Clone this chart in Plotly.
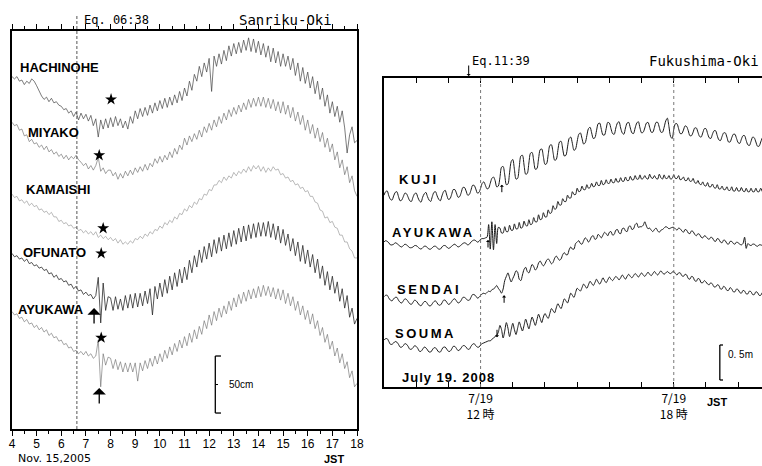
import plotly.graph_objects as go

# ---------------- Left panel: Sanriku-Oki, Nov. 15, 2005 (JST hours, every 0.1 h; levels in cm, stacked) ----
t_left = [round(4 + 0.1 * i, 2) for i in range(141)]

hachinohe = [
    309, 307, 309, 305, 306, 302, 305, 303, 307, 305,
    301, 296, 292, 289, 291, 287, 290, 286, 287, 284,
    283, 280, 281, 277, 279, 274, 278, 271, 277, 272,
    276, 270, 275, 266, 272, 256, 271, 263, 272, 264,
    273, 265, 274, 266, 272, 264, 270, 263, 274, 268,
    279, 272, 281, 274, 282, 275, 284, 277, 286, 279,
    288, 281, 290, 282, 291, 284, 293, 286, 296, 288,
    299, 292, 305, 297, 311, 305, 318, 309, 321, 313,
    325, 296, 327, 318, 329, 320, 332, 323, 336, 327,
    338, 329, 339, 330, 341, 332, 343, 331, 342, 330,
    340, 328, 338, 326, 336, 322, 334, 321, 331, 318,
    329, 318, 327, 315, 325, 310, 321, 305, 317, 303,
    313, 299, 309, 294, 305, 289, 299, 283, 293, 277,
    287, 274, 283, 269, 279, 264, 242, 258, 265, 251,
    253]
miyako = [
    269, 266, 267, 262, 263, 257, 258, 252, 254, 250,
    251, 247, 249, 245, 248, 243, 245, 241, 243, 239,
    241, 237, 240, 236, 239, 237, 240, 236, 234, 231,
    233, 228, 231, 227, 231, 238, 226, 229, 224, 227,
    227, 222, 225, 219, 224, 220, 226, 222, 227, 223,
    229, 225, 230, 226, 232, 227, 233, 230, 237, 233,
    239, 234, 240, 236, 243, 238, 246, 241, 249, 245,
    255, 249, 257, 252, 259, 254, 262, 256, 265, 260,
    268, 262, 271, 265, 274, 268, 277, 271, 280, 274,
    282, 276, 284, 278, 286, 280, 289, 282, 290, 283,
    291, 283, 291, 282, 290, 281, 289, 279, 287, 277,
    287, 276, 284, 273, 282, 270, 278, 267, 275, 262,
    271, 259, 267, 255, 264, 252, 260, 247, 255, 243,
    250, 236, 243, 229, 236, 223, 230, 216, 222, 209,
    204]
kamaishi = [
    206, 203, 204, 200, 201, 198, 200, 196, 198, 195,
    196, 192, 193, 190, 191, 188, 190, 186, 186, 182,
    183, 180, 181, 178, 179, 176, 177, 174, 175, 172,
    174, 171, 173, 170, 173, 168, 170, 167, 169, 166,
    168, 165, 167, 163, 166, 162, 164, 162, 165, 163,
    167, 166, 169, 167, 171, 169, 173, 171, 175, 174,
    178, 176, 181, 179, 183, 181, 186, 184, 189, 188,
    193, 191, 196, 194, 199, 197, 202, 201, 206, 205,
    210, 209, 214, 214, 218, 216, 221, 218, 222, 220,
    225, 222, 226, 224, 228, 225, 230, 226, 231, 228,
    231, 226, 230, 225, 229, 226, 230, 227, 228, 223,
    224, 220, 221, 217, 218, 214, 215, 211, 212, 208,
    209, 204, 204, 199, 198, 192, 191, 185, 186, 181,
    182, 177, 176, 170, 170, 164, 164, 158, 156, 150,
    150]
ofunato = [
    154, 151, 152, 149, 150, 147, 149, 145, 146, 143,
    144, 141, 142, 139, 140, 136, 137, 133, 135, 131,
    132, 129, 130, 126, 127, 123, 125, 121, 122, 118,
    120, 117, 118, 114, 117, 133, 93, 128, 104, 116,
    115, 104, 116, 105, 114, 104, 117, 106, 118, 106,
    119, 107, 119, 108, 121, 110, 123, 100, 125, 114,
    128, 116, 131, 119, 134, 122, 137, 125, 140, 128,
    142, 131, 148, 137, 152, 142, 157, 146, 160, 149,
    163, 151, 166, 154, 168, 156, 170, 158, 172, 160,
    174, 162, 176, 164, 178, 165, 179, 167, 180, 168,
    181, 169, 181, 169, 182, 168, 180, 166, 178, 163,
    175, 161, 171, 156, 167, 152, 164, 147, 161, 145,
    157, 142, 153, 137, 149, 132, 143, 126, 138, 122,
    134, 119, 129, 112, 123, 106, 117, 98, 106, 92,
    97]
ayukawa_2005 = [
    103, 100, 101, 97, 98, 94, 96, 92, 93, 89,
    91, 87, 89, 85, 87, 82, 84, 80, 81, 77,
    78, 74, 75, 71, 72, 68, 69, 66, 68, 65,
    68, 64, 66, 62, 64, 78, 37, 66, 56, 63,
    62, 53, 61, 52, 59, 50, 58, 50, 58, 50,
    58, 42, 58, 51, 60, 53, 62, 55, 64, 57,
    66, 59, 69, 62, 72, 65, 75, 68, 78, 71,
    81, 73, 84, 76, 87, 79, 90, 83, 95, 88,
    100, 91, 103, 95, 106, 98, 108, 101, 112, 104,
    115, 107, 118, 110, 120, 112, 122, 114, 123, 115,
    125, 116, 126, 117, 125, 116, 124, 114, 123, 113,
    122, 110, 119, 108, 116, 104, 112, 100, 108, 96,
    104, 92, 101, 88, 95, 82, 89, 76, 83, 70,
    77, 64, 71, 58, 66, 53, 59, 45, 51, 37,
    40]

left_names = ["HACHINOHE", "MIYAKO", "KAMAISHI", "OFUNATO", "AYUKAWA"]
left_label_pos = [(4.25, 317), (4.57, 260), (4.49, 210), (4.37, 155), (4.16, 105)]
left_star_t = [8.02, 7.54, 7.70, 7.62, 7.62]
left_star_y = [289, 240, 176, 154, 80]
left_arrow_t = [7.33, 7.54]
left_arrow_y = [106, 36]
left_tick_hours = list(range(4, 19))
left_tick_labels = [str(h) for h in left_tick_hours]
eq_2005 = 6.633   # 06:38

# ---------------- Right panel: Fukushima-Oki, July 19, 2008 (JST hours, every 0.05 h; levels in cm) ----
t_right = [round(9 + 0.05 * i, 2) for i in range(236)]

kuji = [
    274, 279, 280, 273, 268, 267, 273, 278, 279, 272, 266, 267, 272, 277, 276, 271, 266, 265, 271, 276,
    277, 271, 266, 264, 271, 276, 278, 272, 267, 265, 272, 278, 279, 273, 268, 266, 273, 279, 281, 274,
    268, 269, 275, 282, 282, 277, 271, 272, 278, 285, 285, 280, 274, 275, 281, 288, 288, 283, 277, 278,
    284, 291, 293, 288, 283, 284, 291, 298, 300, 295, 286, 287, 299, 314, 315, 303, 289, 290, 306, 322,
    325, 311, 297, 298, 314, 330, 331, 317, 304, 305, 320, 334, 335, 323, 311, 312, 326, 339, 340, 329,
    318, 319, 332, 345, 346, 335, 324, 325, 338, 350, 351, 340, 330, 331, 343, 355, 357, 348, 338, 340,
    351, 361, 363, 355, 347, 349, 359, 369, 371, 363, 355, 356, 366, 376, 377, 368, 360, 360, 369, 378,
    377, 369, 362, 361, 370, 377, 379, 370, 363, 361, 370, 377, 378, 370, 363, 362, 370, 377, 379, 370,
    363, 364, 370, 377, 378, 371, 364, 364, 371, 378, 378, 371, 364, 364, 371, 380, 384, 372, 358, 355,
    368, 376, 376, 369, 362, 362, 367, 373, 372, 366, 359, 359, 364, 370, 370, 364, 358, 357, 363, 369,
    369, 362, 356, 355, 361, 366, 366, 359, 353, 352, 358, 363, 363, 357, 350, 350, 356, 361, 361, 355,
    349, 348, 354, 359, 359, 352, 346, 345, 351, 357, 356, 350, 344, 344, 350, 356]
ayukawa_2008 = [
    207, 209, 208, 206, 203, 203, 204, 206, 205, 203, 201, 200, 202, 204, 203, 201, 199, 199, 200, 202,
    202, 200, 198, 197, 199, 201, 201, 199, 197, 197, 199, 201, 201, 199, 197, 197, 200, 202, 202, 200,
    198, 199, 201, 203, 204, 202, 200, 201, 203, 205, 206, 205, 203, 204, 207, 209, 210, 209, 207, 208,
    211, 212, 212, 213, 214, 232, 197, 236, 196, 232, 205, 228, 227, 220, 220, 229, 222, 222, 231, 224,
    224, 233, 226, 226, 235, 227, 228, 237, 231, 230, 239, 232, 233, 242, 236, 236, 246, 239, 240, 249,
    243, 243, 253, 248, 249, 259, 254, 255, 265, 260, 260, 269, 265, 265, 274, 270, 270, 279, 275, 275,
    284, 279, 280, 287, 282, 282, 289, 284, 285, 291, 286, 287, 293, 288, 288, 295, 289, 290, 296, 291,
    291, 297, 292, 292, 298, 293, 293, 299, 294, 294, 300, 295, 295, 301, 296, 296, 302, 297, 297, 303,
    297, 298, 302, 298, 297, 304, 299, 298, 302, 298, 297, 304, 299, 297, 303, 298, 298, 302, 297, 298,
    303, 298, 298, 302, 296, 297, 300, 295, 295, 299, 294, 294, 298, 292, 291, 295, 290, 289, 293, 288,
    287, 292, 286, 286, 290, 285, 284, 289, 283, 283, 287, 282, 282, 286, 281, 281, 286, 280, 280, 285,
    280, 280, 285, 280, 279, 284, 279, 279, 284, 279, 279, 284, 279, 279, 284, 279]
sendai = [
    129, 131, 131, 127, 124, 123, 126, 128, 128, 124, 121, 120, 123, 126, 125, 122, 119, 118, 121, 124,
    123, 120, 117, 116, 119, 122, 122, 119, 116, 116, 119, 122, 123, 120, 117, 117, 120, 124, 124, 121,
    118, 119, 122, 125, 126, 123, 120, 121, 124, 128, 128, 126, 124, 124, 128, 132, 132, 130, 127, 128,
    131, 133, 134, 133, 135, 137, 136, 139, 140, 142, 145, 141, 138, 134, 140, 152, 158, 163, 156, 150,
    155, 160, 166, 164, 154, 152, 160, 168, 171, 165, 163, 169, 175, 172, 167, 170, 177, 180, 176, 173,
    176, 181, 183, 180, 176, 178, 184, 187, 184, 181, 183, 189, 192, 189, 189, 196, 200, 197, 197, 205,
    207, 209, 205, 204, 209, 213, 211, 207, 210, 215, 216, 211, 212, 218, 216, 213, 217, 221, 219, 216,
    221, 222, 217, 218, 224, 225, 220, 219, 226, 227, 223, 222, 229, 230, 225, 226, 232, 234, 228, 229,
    229, 231, 236, 230, 226, 227, 224, 222, 225, 227, 223, 221, 224, 225, 227, 229, 228, 226, 227, 228,
    228, 226, 224, 227, 226, 223, 221, 225, 224, 220, 219, 223, 222, 218, 216, 219, 218, 214, 213, 216,
    215, 212, 211, 214, 213, 209, 208, 212, 211, 207, 206, 210, 209, 205, 204, 208, 208, 205, 204, 207,
    206, 204, 203, 205, 214, 198, 205, 203, 202, 204, 204, 202, 201, 203, 203, 202]
souma = [
    67, 69, 69, 65, 61, 61, 63, 65, 64, 61, 57, 57, 59, 62, 61, 58, 54, 54, 56, 59,
    58, 55, 51, 51, 54, 57, 56, 53, 50, 50, 53, 56, 56, 53, 50, 50, 54, 57, 57, 54,
    51, 51, 54, 58, 58, 55, 52, 53, 56, 59, 59, 57, 54, 54, 58, 61, 62, 59, 57, 57,
    60, 62, 63, 64, 65, 66, 66, 68, 70, 72, 74, 78, 88, 82, 70, 80, 92, 84, 72, 82,
    91, 82, 75, 84, 93, 86, 80, 88, 97, 90, 83, 92, 100, 94, 88, 96, 104, 98, 92, 100,
    105, 101, 98, 105, 112, 109, 106, 113, 119, 115, 112, 119, 126, 123, 120, 127, 134, 131, 128, 135,
    141, 139, 137, 142, 147, 144, 141, 146, 151, 148, 145, 149, 154, 150, 147, 151, 156, 152, 149, 153,
    157, 154, 152, 155, 158, 156, 153, 156, 160, 157, 154, 158, 161, 158, 156, 159, 162, 160, 157, 160,
    163, 160, 158, 161, 164, 161, 159, 162, 165, 162, 160, 163, 166, 163, 161, 163, 165, 163, 162, 164,
    165, 162, 160, 163, 163, 159, 158, 161, 160, 155, 154, 158, 157, 152, 151, 155, 154, 149, 149, 152,
    150, 147, 146, 149, 147, 143, 143, 146, 145, 140, 140, 144, 142, 138, 138, 142, 140, 136, 136, 140,
    139, 135, 134, 138, 137, 133, 133, 137, 136, 132, 132, 136, 135, 131, 131, 135]

right_names = ["KUJI", "AYUKAWA", "SENDAI", "SOUMA"]
right_label_pos = [(9.40, 296), (9.19, 220), (9.34, 139), (9.28, 77)]
right_arrow_t = [12.66, 12.23, 12.73, 12.51]
right_arrow_y = [289, 210, 131, 71]
right_arrow_dir = [1, 1, 1, -1]   # 1 = pointing up, -1 = pointing down
right_tick_hours = list(range(9, 21))
right_tick_labels = ["7/19<br>12 時" if h == 12 else ("7/19<br>18 時" if h == 18 else "") for h in right_tick_hours]
eq_2008 = 11.65   # 11:39

for arr, n in [(hachinohe, 141), (miyako, 141), (kamaishi, 141), (ofunato, 141), (ayukawa_2005, 141),
               (kuji, 236), (ayukawa_2008, 236), (sendai, 236), (souma, 236)]:
    assert len(arr) == n, (len(arr), n)

fig = go.Figure()

left_styles = [("#444444", 0.7), ("#606060", 0.6), ("#8c8c8c", 0.6), ("#2a2a2a", 0.8), ("#666666", 0.6)]
for vals, (col, w) in zip([hachinohe, miyako, kamaishi, ofunato, ayukawa_2005], left_styles):
    fig.add_trace(go.Scatter(x=t_left, y=vals, mode="lines", line=dict(color=col, width=w),
                             xaxis="x", yaxis="y", hoverinfo="skip", showlegend=False))

for vals in [kuji, ayukawa_2008, sendai, souma]:
    fig.add_trace(go.Scatter(x=t_right, y=vals, mode="lines",
                             line=dict(color="#1a1a1a", width=1, shape="spline", smoothing=0.8),
                             xaxis="x2", yaxis="y2", hoverinfo="skip", showlegend=False))

fig.add_trace(go.Scatter(x=left_star_t, y=left_star_y, mode="markers",
                         marker=dict(symbol="star", size=9, color="black"),
                         xaxis="x", yaxis="y", hoverinfo="skip", showlegend=False))

LBL = dict(family="Liberation Sans, Arial, sans-serif", size=13, color="black")
ann = []
for name, (tx, ty) in zip(left_names, left_label_pos):
    ann.append(dict(x=tx, y=ty, xref="x", yref="y", text="<b>%s</b>" % name, showarrow=False,
                    xanchor="left", yanchor="middle", font=LBL))
for name, (tx, ty) in zip(right_names, right_label_pos):
    ann.append(dict(x=tx, y=ty, xref="x2", yref="y2",
                    text="<b><span style='letter-spacing:2.5px'>%s</span></b>" % name,
                    showarrow=False, xanchor="left", yanchor="middle", font=LBL))
for tx, ty in zip(left_arrow_t, left_arrow_y):
    ann.append(dict(x=tx, y=ty, xref="x", yref="y", ax=0, ay=17, text="", showarrow=True,
                    arrowhead=1, arrowsize=1.7, arrowwidth=1.3, arrowcolor="black"))
for tx, ty, d in zip(right_arrow_t, right_arrow_y, right_arrow_dir):
    ann.append(dict(x=tx, y=ty, xref="x2", yref="y2", ax=0, ay=9 * d, text="", showarrow=True,
                    arrowhead=1, arrowsize=0.7, arrowwidth=1, arrowcolor="black"))
ann.append(dict(x=eq_2008 - 0.02, y=1 - 76 / 466, xref="x2", yref="paper", ax=0, ay=-12, text="",
                showarrow=True, arrowhead=1, arrowsize=0.7, arrowwidth=1, arrowcolor="black"))

MONO = dict(family="DejaVu Sans Mono, monospace", color="black")
ann += [
    dict(x=82 / 762, y=1 - 20 / 466, xref="paper", yref="paper", text="Eq. 06:38", showarrow=False,
         xanchor="left", yanchor="middle", font=dict(MONO, size=12)),
    dict(x=334 / 762, y=1 - 20 / 466, xref="paper", yref="paper", text="Sanriku-Oki", showarrow=False,
         xanchor="right", yanchor="middle", font=dict(MONO, size=14)),
    dict(x=470 / 762, y=1 - 61 / 466, xref="paper", yref="paper", text="Eq.11:39", showarrow=False,
         xanchor="left", yanchor="middle", font=dict(MONO, size=12)),
    dict(x=761 / 762, y=1 - 61 / 466, xref="paper", yref="paper", text="Fukushima-Oki", showarrow=False,
         xanchor="right", yanchor="middle", font=dict(MONO, size=14)),
    dict(x=17 / 762, y=0, xref="paper", yref="paper", text="Nov. 15,2005", showarrow=False,
         xanchor="left", yanchor="bottom", borderpad=0,
         font=dict(family="DejaVu Sans, sans-serif", size=11, color="black")),
    dict(x=334 / 762, y=0, xref="paper", yref="paper", text="<b>JST</b>", showarrow=False,
         xanchor="center", yanchor="bottom", borderpad=0,
         font=dict(family="Liberation Sans, sans-serif", size=11, color="black")),
    dict(x=400 / 762, y=1 - 377 / 466, xref="paper", yref="paper",
         text="<b><span style='letter-spacing:1px'>July 19. 2008</span></b>", showarrow=False,
         xanchor="left", yanchor="middle", font=dict(family="Liberation Sans, sans-serif", size=13, color="black")),
    dict(x=717 / 762, y=1 - 402 / 466, xref="paper", yref="paper", text="<b>JST</b>", showarrow=False,
         xanchor="center", yanchor="middle", font=dict(family="Liberation Sans, sans-serif", size=11, color="black")),
    dict(x=12.72, y=39, xref="x", yref="y", text="50cm", showarrow=False, xanchor="left", yanchor="middle",
         font=dict(family="Liberation Sans, sans-serif", size=10, color="black")),
    dict(x=19.62, y=47, xref="x2", yref="y2", text="0. 5m", showarrow=False, xanchor="left", yanchor="middle",
         font=dict(family="Liberation Sans, sans-serif", size=10, color="black")),
]

shapes = [
    # earthquake time lines
    dict(type="line", xref="x", yref="paper", x0=eq_2005, x1=eq_2005, y0=1 - 429 / 466, y1=1 - 14 / 466,
         line=dict(color="#555555", width=1, dash="3px,2px")),
    dict(type="line", xref="x2", yref="paper", x0=12, x1=12, y0=1 - 387 / 466, y1=1 - 78 / 466,
         line=dict(color="#777777", width=1, dash="dot")),
    dict(type="line", xref="x2", yref="paper", x0=18, x1=18, y0=1 - 387 / 466, y1=1 - 78 / 466,
         line=dict(color="#777777", width=1, dash="dot")),
    # 50 cm scale bar
    dict(type="line", xref="x", yref="y", x0=12.25, x1=12.25, y0=14, y1=64, line=dict(color="black", width=1.3)),
    dict(type="line", xref="x", yref="y", x0=12.25, x1=12.48, y0=64, y1=64, line=dict(color="black", width=1.3)),
    dict(type="line", xref="x", yref="y", x0=12.25, x1=12.48, y0=14, y1=14, line=dict(color="black", width=1.3)),
    dict(type="line", xref="x", yref="y", x0=12.25, x1=12.36, y0=39, y1=39, line=dict(color="black", width=1)),
    # 0.5 m scale bar
    dict(type="line", xref="x2", yref="y2", x0=19.43, x1=19.43, y0=10, y1=60, line=dict(color="black", width=1.3)),
    dict(type="line", xref="x2", yref="y2", x0=19.43, x1=19.53, y0=60, y1=60, line=dict(color="black", width=1.3)),
    dict(type="line", xref="x2", yref="y2", x0=19.43, x1=19.53, y0=10, y1=10, line=dict(color="black", width=1.3)),
]

fig.update_layout(
    width=762, height=466, margin=dict(l=0, r=0, t=0, b=0, autoexpand=False),
    paper_bgcolor="white", plot_bgcolor="white", showlegend=False,
    annotations=ann, shapes=shapes,
    xaxis=dict(domain=[12 / 762, 357 / 762], range=[4, 18], anchor="y", automargin=False,
               showline=True, linewidth=2, linecolor="black", mirror="ticks",
               ticks="outside", ticklen=5, tickwidth=1, tickcolor="black",
               tickvals=left_tick_hours, ticktext=left_tick_labels, ticklabelstandoff=-2,
               tickfont=dict(family="Liberation Sans, sans-serif", size=12, color="black"),
               minor=dict(dtick=0.5, tick0=4, ticks="outside", ticklen=3, tickcolor="black"),
               showgrid=False, zeroline=False, fixedrange=True),
    yaxis=dict(domain=[1 - 429 / 466, 1 - 31 / 466], range=[0, 349], anchor="x", automargin=False,
               showline=True, linewidth=2, linecolor="black", mirror=True,
               showticklabels=False, ticks="", showgrid=False, zeroline=False, fixedrange=True),
    xaxis2=dict(domain=[384 / 762, 1], range=[9, 20.74], anchor="y2", automargin=False,
                showline=True, linewidth=1.5, linecolor="black", mirror="ticks",
                ticks="inside", ticklen=5, tickwidth=1, tickcolor="black",
                tickvals=right_tick_hours, ticktext=right_tick_labels,
                tickfont=dict(family="Noto Sans CJK JP, sans-serif", size=12, color="black"),
                showgrid=False, zeroline=False, fixedrange=True),
    yaxis2=dict(domain=[1 - 387 / 466, 1 - 78 / 466], range=[0, 441.4], anchor="x2", automargin=False,
                showline=True, linewidth=1.5, linecolor="black", mirror=False,
                showticklabels=False, ticks="", showgrid=False, zeroline=False, fixedrange=True),
)

fig.write_html("out.html", config=dict(displayModeBar=False),
               post_script="document.body.style.margin='0';document.body.style.overflow='hidden';")
